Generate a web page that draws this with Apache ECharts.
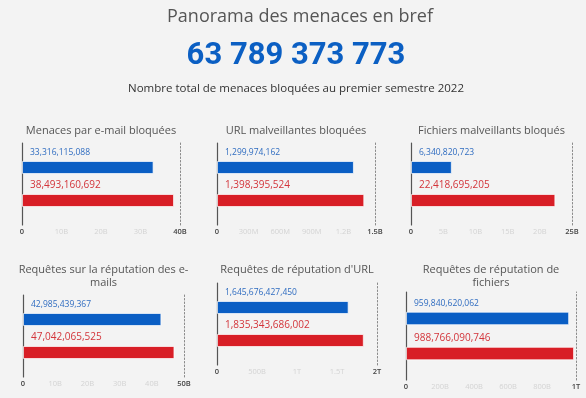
<!DOCTYPE html>
<html>
<head>
<meta charset="utf-8">
<title>Panorama des menaces en bref</title>
<script src="https://cdn.jsdelivr.net/npm/echarts@6/dist/echarts.min.js"></script>
<style>
  html, body { margin: 0; padding: 0; background: #f3f3f3; }
  #chart { width: 586px; height: 398px; }
</style>
</head>
<body>
<div id="chart"></div>
<script>
// --- data ---
const totalBlocked = "63 789 373 773";
const panelTitles = [
  "Menaces par e-mail bloquées",
  "URL malveillantes bloquées",
  "Fichiers malveillants bloqués",
  "Requêtes sur la réputation des e-\nmails",
  "Requêtes de réputation d'URL",
  "Requêtes de réputation de\nfichiers",
];
const blueValues = [33316115088, 1299974162, 6340820723, 42985439367, 1645676427450, 959840620062];
const redValues = [38493160692, 1398395524, 22418695205, 47042065525, 1835343686002, 988766090746];
const axisMax = [40e9, 1.5e9, 25e9, 50e9, 2e12, 1e12];
const axisStep = [10e9, 3e8, 5e9, 10e9, 5e11, 2e11];

// --- layout of the six small charts ---
const boxes = [
  { left: 22, top: 143, width: 158, height: 82, titleTop: 124, gap: "154%", bw: 13 },
  { left: 217, top: 143, width: 158, height: 82, titleTop: 124, gap: "154%", bw: 13 },
  { left: 411, top: 143, width: 161, height: 82, titleTop: 124, gap: "154%", bw: 13 },
  { left: 23, top: 295, width: 161, height: 82, titleTop: 263, gap: "154%", bw: 13 },
  { left: 217, top: 283, width: 160, height: 82, titleTop: 263, gap: "154%", bw: 13 },
  { left: 406, top: 292, width: 170, height: 88, titleTop: 263, gap: "160%", bw: 13.5 },
];

const BLUE = "#0a5ec4";
const RED = "#d81e26";

function shortNum(v) {
  if (v >= 1e12) return +(v / 1e12).toFixed(2) + "T";
  if (v >= 1e9) return +(v / 1e9).toFixed(2) + "B";
  if (v >= 1e6) return +(v / 1e6).toFixed(2) + "M";
  return String(v);
}

const titles = [
  {
    text: "Panorama des menaces en bref",
    left: 300, top: 4, textAlign: "center", padding: 0,
    textStyle: { fontFamily: "Open Sans", fontWeight: 400, fontSize: 18, lineHeight: 26, color: "#555" },
  },
  {
    text: totalBlocked,
    left: 296, top: 38, textAlign: "center", padding: 0,
    textStyle: { fontFamily: "Roboto", fontWeight: 700, fontSize: 31, lineHeight: 36, color: "#0b5fc3" },
  },
  {
    text: "Nombre total de menaces bloquées au premier semestre 2022",
    left: 296, top: 81, textAlign: "center", padding: 0,
    textStyle: { fontFamily: "Open Sans", fontWeight: 400, fontSize: 11.5, lineHeight: 16, color: "#333" },
  },
];

const grids = [], xAxes = [], yAxes = [], series = [];

boxes.forEach((b, i) => {
  titles.push({
    text: panelTitles[i],
    left: b.left + b.width / 2, top: b.titleTop, textAlign: "center", padding: 0,
    textStyle: { fontFamily: "Open Sans", fontWeight: 400, fontSize: 11, lineHeight: 13, color: "#555" },
  });
  grids.push({ left: b.left, top: b.top, width: b.width, height: b.height });
  xAxes.push({
    type: "value", gridIndex: i, min: 0, max: axisMax[i], interval: axisStep[i],
    axisLine: { show: false }, axisTick: { show: false }, splitLine: { show: false },
    axisLabel: {
      margin: 3,
      formatter: (v) => {
        const t = v === 0 ? "0" : shortNum(v);
        return (v === 0 || v >= axisMax[i]) ? "{edge|" + t + "}" : "{mid|" + t + "}";
      },
      rich: {
        edge: { fontFamily: "Open Sans", fontSize: 7.5, fontWeight: 600, color: "#444" },
        mid: { fontFamily: "Open Sans", fontSize: 7.5, color: "#d3d3d3" },
      },
    },
  });
  // left solid axis line
  yAxes.push({
    type: "category", gridIndex: i, data: [""],
    axisLine: { show: true, lineStyle: { color: "#555", width: 1.2 } },
    axisTick: { show: false }, axisLabel: { show: false },
  });
  // right dotted line at the axis max
  yAxes.push({
    type: "category", gridIndex: i, position: "right", data: [""],
    axisLine: { show: true, lineStyle: { color: "#8a8a8a", type: [1.5, 2], width: 1 } },
    axisTick: { show: false }, axisLabel: { show: false },
  });
  const mk = (val, color, labelColor, fs) => ({
    type: "bar",
    xAxisIndex: i,
    yAxisIndex: i * 2,
    barWidth: b.bw,
    barGap: b.gap,
    data: [val],
    itemStyle: { color, borderColor: "rgba(255,255,255,0.7)", borderWidth: 1 },
    label: {
      show: true, position: [8, -8.5], align: "left", verticalAlign: "middle",
      fontFamily: "Open Sans", fontSize: fs, color: labelColor,
      formatter: (p) => p.value.toLocaleString("en-US"),
    },
    silent: true,
  });
  series.push(mk(blueValues[i], BLUE, "#2f6cc0", 8.5));
  series.push(mk(redValues[i], RED, "#d3343a", 10));
});

const chart = echarts.init(document.getElementById("chart"));
chart.setOption({
  backgroundColor: "#f3f3f3",
  animation: false,
  title: titles,
  grid: grids,
  xAxis: xAxes,
  yAxis: yAxes,
  series,
});
</script>
</body>
</html>
